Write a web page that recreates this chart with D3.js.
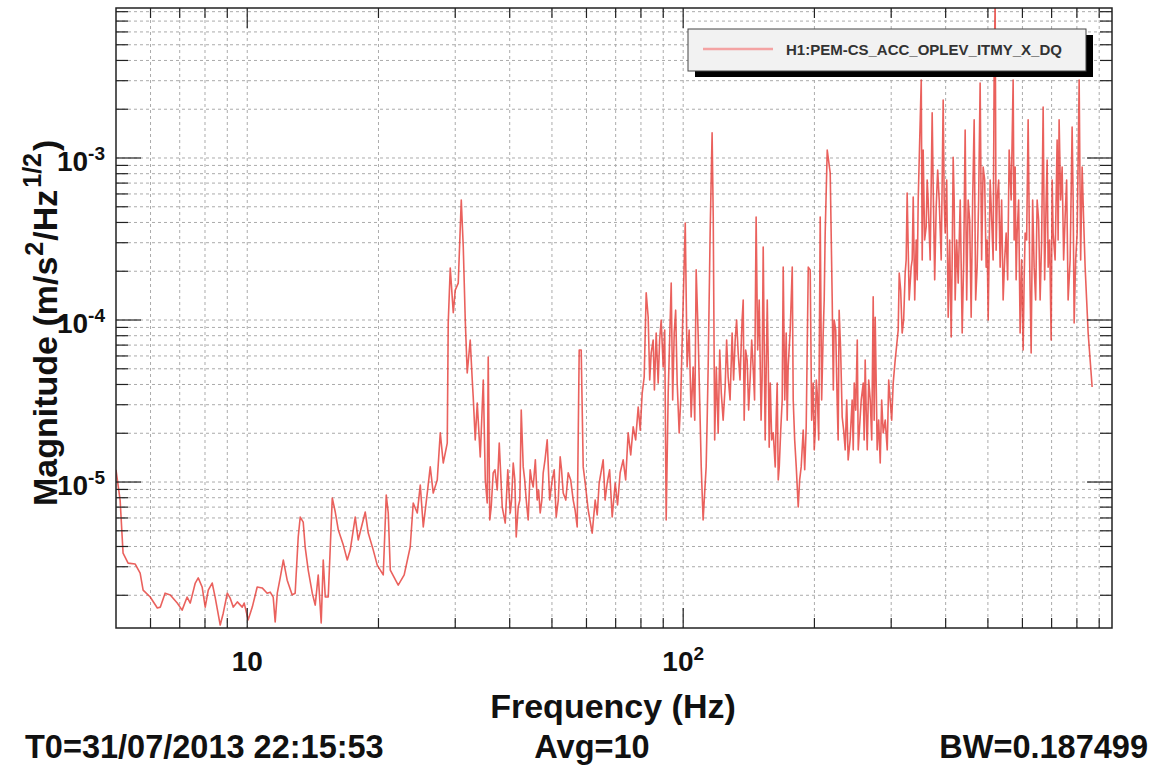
<!DOCTYPE html>
<html>
<head>
<meta charset="utf-8">
<script src="https://cdn.jsdelivr.net/npm/d3@7"></script>
<style>
  body { margin: 0; background: #fff; }
  svg text { font-family: "Liberation Sans", Arial, Helvetica, sans-serif; font-weight: bold; }
</style>
</head>
<body>
<div id="chart"></div>
<script>
// spectrum (Hz, m/s^2/Hz^1/2)
const freqHz = [
  5.00,5.11,5.19,5.33,5.53,5.68,5.77,5.99,6.22,6.32,6.48,6.66,6.91,7.09,7.28,7.40,7.60,7.72,7.88,8.01,
  8.14,8.31,8.44,8.67,8.81,9.00,9.14,9.29,9.49,9.74,9.84,
  10.05,10.27,10.54,10.82,11.11,11.29,11.47,11.59,11.72,11.91,12.10,12.35,12.68,12.88,13.09,13.23,13.44,13.58,13.80,14.10,
  14.32,14.55,14.78,14.94,15.10,15.34,15.67,15.92,16.18,16.61,16.96,17.23,
  17.69,17.97,18.65,18.95,19.46,19.87,20.51,20.84,21.06,21.29,22.20,22.91,23.65,24.03,24.55,24.94,25.34,25.88,26.29,26.71,
  27.28,27.72,28.16,28.76,28.91,29.22,29.69,30.00,30.48,30.97,31.30,31.63,31.96,32.47,32.82,32.99,33.34,33.70,34.24,34.79,
  35.16,35.52,35.71,36.28,36.66,37.45,37.85,38.45,39.07,40.11,40.75,41.40,41.84,42.51,42.96,43.65,44.57,45.28,46.25,46.99,
  47.74,48.76,50.07,51.13,52.22,53.06,54.48,55.94,57.13,57.74,
  58.35,58.97,59.60,60.55,61.84,62.83,64.16,65.53,66.94,68.73,69.83,71.69,72.83,74.78,76.79,78.85,80.53,81.39,82.25,83.12,
  84.45,85.34,86.71,87.62,89.03,89.97,91.41,92.39,93.87,95.37,96.88,97.91,99.48,101.1,102.1,104.3,105.4,107.1,108.2,110.0,
  111.1,112.9,114.1,115.3,116.5,117.2,119.1,120.3,122.3,124.8,126.8,129.5,131.6,133.7,136.5,138.0,140.2,142.5,144.7,147.0,
  149.4,150.9,152.6,155.9,157.5,
  158.4,160.9,162.6,164.3,166.1,168.7,169.6,172.3,174.1,177.9,178.8,181.7,183.6,186.5,188.5,191.5,193.6,195.6,198.7,200.8,
  203.0,206.2,209.5,211.7,214.0,217.4,219.7,222.0,225.5,227.9,231.6,235.3,239.0,244.1,246.8,250.8,253.4,258.8,261.5,264.3,
  268.6,272.8,275.7,278.6,283.1,287.6,293.8,298.4,303.2,309.7,313.0,317.9,323.0,326.4,333.4,337.0,342.4,346.0,
  351.6,355.2,360.9,364.7,372.5,374.5,380.5,386.6,394.8,399.0,405.4,411.9,416.2,420.6,427.4,436.5,443.4,450.5,457.7,465.0,
  472.4,479.9,487.6,495.4,500.7,511.4,516.7,519.5,525.0,533.4,541.9,550.6,559.4,571.3,577.4,583.5,592.8,602.3,608.7,618.4,
  628.3,638.3,648.5,658.8,669.4,680.1,687.3,698.3,705.6,720.7,728.3,740.0,751.8,763.8,780.1,788.5,801.1,809.6,822.5,835.6,
  849.0,867.1
];
const magnitude = [
  1.19e-5,7.74e-6,3.64e-6,3.16e-6,3.12e-6,2.74e-6,2.15e-6,1.95e-6,1.67e-6,1.69e-6,2.06e-6,2.01e-6,1.79e-6,1.62e-6,1.95e-6,1.79e-6,2.38e-6,2.56e-6,2.25e-6,1.69e-6,
  2.15e-6,2.38e-6,1.95e-6,1.31e-6,1.55e-6,2.06e-6,1.92e-6,1.69e-6,1.82e-6,1.69e-6,1.79e-6,
  1.41e-6,1.69e-6,2.25e-6,2.22e-6,2.06e-6,2.09e-6,1.95e-6,1.37e-6,2.06e-6,2.59e-6,3.30e-6,2.48e-6,2.01e-6,2.06e-6,4.58e-6,6.08e-6,5.66e-6,3.97e-6,2.86e-6,2.06e-6,
  1.74e-6,2.67e-6,1.35e-6,3.30e-6,1.95e-6,1.95e-6,7.97e-6,6.53e-6,5.05e-6,4.08e-6,3.30e-6,3.80e-6,
  6.08e-6,4.39e-6,6.53e-6,4.84e-6,3.80e-6,3.07e-6,2.67e-6,8.31e-6,6.44e-6,2.86e-6,2.31e-6,2.67e-6,3.97e-6,7.42e-6,6.44e-6,9.58e-6,5.28e-6,8.55e-6,1.24e-5,8.55e-6,
  1.03e-5,2.01e-5,1.31e-5,1.74e-5,9.58e-5,2.09e-4,1.11e-4,1.53e-4,1.69e-4,5.50e-4,2.82e-4,1.00e-4,4.71e-5,7.53e-5,4.26e-5,3.35e-5,1.82e-5,3.07e-5,1.43e-5,4.26e-5,
  1.03e-5,7.42e-6,5.91e-5,7.01e-6,1.14e-5,8.93e-6,1.74e-5,7.01e-6,5.58e-6,6.44e-6,1.31e-5,4.58e-6,7.01e-6,2.78e-5,1.24e-5,7.74e-6,1.19e-5,9.31e-6,7.74e-6,6.44e-6,
  1.14e-5,1.82e-5,1.03e-5,6.08e-6,1.43e-5,8.55e-6,1.14e-5,7.74e-6,5.28e-6,6.53e-5,
  6.53e-5,1.24e-5,9.86e-6,6.72e-6,4.84e-6,7.74e-6,9.86e-6,1.37e-5,9.86e-6,6.08e-6,9.86e-6,1.14e-5,1.37e-5,2.01e-5,2.19e-5,2.90e-5,3.54e-5,4.45e-5,1.47e-4,1.04e-4,
  6.26e-5,7.53e-5,8.31e-5,4.08e-5,1.00e-4,5.13e-5,5.83e-6,3.54e-5,1.69e-4,8.31e-5,4.08e-5,2.01e-5,7.53e-5,3.97e-4,5.13e-5,2.52e-5,5.13e-5,2.04e-4,8.31e-5,1.24e-5,
  5.83e-6,1.24e-5,5.13e-5,3.44e-4,1.43e-3,4.32e-4,5.13e-5,2.01e-5,3.54e-5,3.86e-5,4.45e-5,8.31e-5,7.53e-5,6.26e-5,1.00e-4,2.41e-5,5.66e-5,4.45e-5,5.13e-5,4.32e-4,
  1.33e-4,2.41e-5,2.82e-4,1.33e-4,1.64e-5,
  4.08e-5,2.01e-5,1.24e-5,4.08e-5,1.24e-5,3.21e-5,2.12e-4,8.31e-5,5.13e-5,2.12e-4,3.21e-5,1.24e-5,7.01e-6,1.24e-5,2.09e-5,2.19e-5,2.12e-4,2.04e-4,4.08e-5,2.01e-5,
  3.54e-5,4.32e-4,8.31e-5,3.44e-4,1.12e-3,8.08e-4,1.33e-4,1.00e-4,3.21e-5,1.15e-4,2.52e-5,1.58e-5,1.37e-5,3.21e-5,4.08e-5,7.53e-5,2.01e-5,4.08e-5,5.66e-5,1.58e-5,
  3.21e-5,1.39e-4,1.04e-4,1.58e-5,1.31e-5,2.01e-5,1.58e-5,3.21e-5,4.08e-5,7.53e-5,1.95e-4,8.31e-5,1.95e-4,6.08e-4,2.12e-4,5.74e-4,3.12e-4,5.50e-4,
  3.03e-3,1.12e-3,3.75e-4,5.50e-4,1.90e-3,6.62e-4,4.98e-4,5.50e-4,2.28e-3,3.44e-4,1.04e-4,7.85e-5,1.01e-3,1.33e-4,1.69e-4,8.31e-5,1.49e-3,5.50e-4,1.04e-4,1.72e-3,
  2.12e-4,2.90e-3,8.80e-4,2.12e-4,1.00e-4,3.44e-4,3.16e-3,9.5e-3,5.50e-4,2.12e-4,1.33e-4,3.44e-4,1.12e-3,3.03e-3,8.80e-4,3.44e-4,8.31e-5,6.53e-5,3.44e-4,1.72e-3,
  6.26e-5,2.12e-4,5.50e-4,1.33e-4,2.06e-3,5.50e-4,2.12e-4,7.53e-5,3.44e-4,1.29e-3,1.72e-3,8.80e-4,4.32e-4,1.33e-4,1.55e-3,9.58e-5,3.44e-4,3.03e-3,8.80e-4,2.12e-4,
  8.31e-5,3.86e-5
];

// extra readings inside the dense band above ~35 Hz
const freqHzBand = [
  36.0,37.0,38.2,39.6,40.4,41.1,42.2,43.3,44.1,44.9,45.8,46.6,47.4,48.2,49.4,50.6,51.7,52.6,53.8,55.2,56.5,
  63.5,66.2,67.8,70.7,73.8,75.8,77.8,79.7,83.8,85.9,88.3,90.7,94.6,96.1,98.7,103.2,106.3,113.5,118.1,121.3,
  123.5,125.8,128.1,130.5,132.6,135.0,137.3,139.1,141.3,143.6,145.8,148.2,151.7,154.2,156.7,
  159.6,163.4,165.2,167.4,171.0,173.2,176.0,180.2,185.0,190.0,197.1,199.8,202.0,204.6,207.8,210.6,221.0,223.8,226.7,229.7,
  233.4,237.2,241.5,245.5,248.8,252.1,256.1,260.1,262.9,266.4,270.7,274.2,277.1,280.8,285.3,290.7,296.1,300.8,306.4,311.3,
  315.4,320.4,324.7,329.9,335.2,339.7,344.2,
  353.4,358.0,362.8,368.6,377.5,383.5,390.7,396.9,402.2,408.6,414.0,418.4,424.0,432.0,440.0,447.0,454.1,461.3,468.7,476.1,
  483.7,491.5,498.0,506.0,514.0,522.2,529.2,537.6,546.2,555.0,565.3,574.3,580.4,588.1,597.5,605.5,613.5,623.3,633.3,643.4,
  653.6,664.1,674.7,683.7,692.8,702.0,713.0,724.5,734.1,745.9,757.8,772.0,784.3,794.8,805.3,816.0,829.0,842.3,858.0
];
const magnitudeBand = [
  5.83e-6,1.19e-5,1.03e-5,1.19e-5,7.74e-6,1.03e-5,7.74e-6,1.03e-5,5.83e-6,1.03e-5,1.37e-5,8.93e-6,7.74e-6,1.37e-5,7.74e-6,1.19e-5,7.74e-6,1.19e-5,7.74e-6,1.03e-5,6.72e-6,
  6.26e-6,7.74e-6,1.19e-5,7.21e-6,1.03e-5,1.47e-5,1.82e-5,2.09e-5,4.26e-5,3.70e-5,7.53e-5,8.68e-5,3.21e-5,1.15e-4,3.21e-5,8.68e-5,2.41e-5,2.41e-5,1.82e-5,6.53e-5,
  2.41e-5,7.53e-5,3.21e-5,4.26e-5,1.00e-4,4.26e-5,1.33e-4,6.53e-5,2.78e-5,7.53e-5,3.21e-5,6.53e-5,4.26e-5,1.82e-5,5.66e-5,
  1.82e-5,2.41e-5,1.03e-5,2.09e-5,3.21e-5,2.41e-5,8.68e-5,1.82e-5,1.03e-5,1.19e-5,2.41e-5,1.58e-5,4.26e-5,1.82e-5,3.21e-5,1.33e-4,3.70e-5,8.68e-5,1.82e-5,6.53e-5,
  2.09e-5,3.21e-5,1.82e-5,1.58e-5,2.78e-5,1.58e-5,3.21e-5,1.82e-5,2.78e-5,4.26e-5,1.82e-5,2.41e-5,4.26e-5,2.41e-5,3.21e-5,2.41e-5,4.26e-5,2.41e-5,5.66e-5,8.68e-5,
  1.53e-4,1.00e-4,2.35e-4,1.33e-4,2.35e-4,1.33e-4,1.77e-4,
  2.35e-4,3.12e-4,7.32e-4,2.35e-4,1.77e-4,8.43e-4,2.35e-4,5.50e-4,7.32e-4,3.12e-4,2.35e-4,5.50e-4,3.12e-4,5.50e-4,2.35e-4,1.33e-4,4.14e-4,5.50e-4,1.33e-4,5.50e-4,
  2.35e-4,7.32e-4,3.12e-4,7.32e-4,2.35e-4,2.70e-4,7.32e-4,5.50e-4,2.35e-4,1.77e-4,5.50e-4,3.12e-4,1.77e-4,5.50e-4,2.35e-4,1.77e-4,3.12e-4,2.35e-4,5.50e-4,1.33e-4,
  4.14e-4,3.12e-4,1.77e-4,9.72e-4,3.12e-4,7.32e-4,2.35e-4,3.12e-4,5.50e-4,2.35e-4,7.32e-4,2.35e-4,5.50e-4,2.35e-4,9.72e-4,2.35e-4,4.14e-4,1.33e-4,5.66e-5
];

const xDecades = [10, 100];
const xDecadeExp = ["", "2"];
const yDecades = [1e-5, 1e-4, 1e-3];
const yDecadeExp = ["-5", "-4", "-3"];
const channelName = "H1:PEM-CS_ACC_OPLEV_ITMY_X_DQ";
const footerLeft = "T0=31/07/2013 22:15:53";
const footerMid = "Avg=10";
const footerRight = "BW=0.187499";

const W = 1155, H = 781;
const frame = { left: 116, right: 1112, top: 8, bottom: 628 };

const svg = d3.select("#chart").append("svg")
    .attr("width", W)
    .attr("height", H);

svg.append("rect").attr("width", W).attr("height", H).attr("fill", "#fff");

const x = d3.scaleLog().domain([5, 963]).range([frame.left, frame.right]);
const y = d3.scaleLog().domain([1.256e-6, 8.43e-3]).range([frame.bottom, frame.top]);

const xTicks = x.ticks().filter(t => x(t) > frame.left + 1 && x(t) < frame.right - 1);
const yTicks = y.ticks().filter(t => y(t) < frame.bottom - 1 && y(t) > frame.top + 1);
const isDecade = t => Math.abs(Math.log10(t) - Math.round(Math.log10(t))) < 1e-6;

// grid
const grid = svg.append("g")
    .attr("stroke", "#ababab")
    .attr("stroke-width", 1)
    .attr("stroke-dasharray", "3,3");

grid.selectAll(".vg").data(xTicks).enter().append("line")
    .attr("x1", d => x(d)).attr("x2", d => x(d))
    .attr("y1", frame.top).attr("y2", frame.bottom);

grid.selectAll(".hg").data(yTicks).enter().append("line")
    .attr("x1", frame.left).attr("x2", frame.right)
    .attr("y1", d => y(d)).attr("y2", d => y(d));

// spectrum
const data = freqHz.map((f, i) => ({ f: f, v: magnitude[i] }))
    .concat(freqHzBand.map((f, i) => ({ f: f, v: magnitudeBand[i] })))
    .sort((a, b) => a.f - b.f);

svg.append("clipPath").attr("id", "plotclip")
    .append("rect")
    .attr("x", frame.left).attr("y", frame.top)
    .attr("width", frame.right - frame.left).attr("height", frame.bottom - frame.top);

const line = d3.line()
    .x(d => x(d.f))
    .y(d => y(d.v));

svg.append("path")
    .datum(data)
    .attr("clip-path", "url(#plotclip)")
    .attr("fill", "none")
    .attr("stroke", "#e53935")
    .attr("stroke-opacity", 0.8)
    .attr("stroke-width", 1.6)
    .attr("stroke-linejoin", "round")
    .attr("d", line);

// ticks (inside the frame, ROOT style)
const ticks = svg.append("g").attr("stroke", "#222").attr("stroke-width", 1.2);

ticks.selectAll(".tb").data(xTicks).enter().append("line")
    .attr("x1", d => x(d)).attr("x2", d => x(d))
    .attr("y1", frame.bottom).attr("y2", d => frame.bottom - (isDecade(d) ? 20 : 10));
ticks.selectAll(".tt").data(xTicks).enter().append("line")
    .attr("x1", d => x(d)).attr("x2", d => x(d))
    .attr("y1", frame.top).attr("y2", d => frame.top + (isDecade(d) ? 20 : 10));
ticks.selectAll(".tl").data(yTicks).enter().append("line")
    .attr("y1", d => y(d)).attr("y2", d => y(d))
    .attr("x1", frame.left).attr("x2", d => frame.left + (isDecade(d) ? 25 : 12));
ticks.selectAll(".tr").data(yTicks).enter().append("line")
    .attr("y1", d => y(d)).attr("y2", d => y(d))
    .attr("x1", frame.right).attr("x2", d => frame.right - (isDecade(d) ? 25 : 12));

svg.append("rect")
    .attr("x", frame.left).attr("y", frame.top)
    .attr("width", frame.right - frame.left).attr("height", frame.bottom - frame.top)
    .attr("fill", "none")
    .attr("stroke", "#222")
    .attr("stroke-width", 1.5);

// tick labels
xDecades.forEach(function (d, i) {
    const t = svg.append("text")
        .attr("x", x(d)).attr("y", 671)
        .attr("text-anchor", "middle")
        .style("font-size", "28px")
        .attr("fill", "#111");
    t.append("tspan").text("10");
    if (xDecadeExp[i]) {
        t.append("tspan").attr("dy", -11).style("font-size", "19px").text(xDecadeExp[i]);
    }
});

yDecades.forEach(function (d, i) {
    const t = svg.append("text")
        .attr("x", 105).attr("y", y(d) + 13)
        .attr("text-anchor", "end")
        .style("font-size", "28px")
        .attr("fill", "#111");
    t.append("tspan").text("10");
    t.append("tspan").attr("dy", -11).style("font-size", "19px").text(yDecadeExp[i]);
});

// axis titles
svg.append("text")
    .attr("x", 613).attr("y", 718)
    .attr("text-anchor", "middle")
    .style("font-size", "34px")
    .attr("fill", "#111")
    .text("Frequency (Hz)");

const yTitle = svg.append("text")
    .attr("transform", "translate(57,506) rotate(-90)")
    .attr("text-anchor", "start")
    .style("font-size", "34px")
    .attr("fill", "#111");
yTitle.append("tspan").text("Magnitude (m/s");
yTitle.append("tspan").attr("dy", -14).attr("dx", 1).style("font-size", "25px").text("2");
yTitle.append("tspan").attr("dy", 14).attr("dx", 1).text("/Hz");
yTitle.append("tspan").attr("dy", -16).attr("dx", 2).style("font-size", "25px").text("1/2");
yTitle.append("tspan").attr("dy", 16).attr("dx", 2).text(")");

// footer
svg.append("text").attr("x", 25).attr("y", 758)
    .style("font-size", "32.5px").attr("fill", "#111").text(footerLeft);
svg.append("text").attr("x", 592).attr("y", 758).attr("text-anchor", "middle")
    .style("font-size", "32.5px").attr("fill", "#111").text(footerMid);
svg.append("text").attr("x", 1148).attr("y", 758).attr("text-anchor", "end")
    .style("font-size", "32.5px").attr("fill", "#111").text(footerRight);

// legend
const legend = svg.append("g");
legend.append("rect")
    .attr("x", 695).attr("y", 35).attr("width", 398).attr("height", 42)
    .attr("fill", "#000");
legend.append("rect")
    .attr("x", 688).attr("y", 29).attr("width", 398).attr("height", 42)
    .attr("fill", "#f2f2f2")
    .attr("stroke", "#444")
    .attr("stroke-width", 1);
legend.append("line")
    .attr("x1", 703).attr("x2", 773).attr("y1", 49).attr("y2", 49)
    .attr("stroke", "#f4a3a3").attr("stroke-width", 2.5);
legend.append("text")
    .attr("x", 786).attr("y", 55)
    .style("font-size", "15px")
    .attr("fill", "#333")
    .text(channelName);
</script>
</body>
</html>
